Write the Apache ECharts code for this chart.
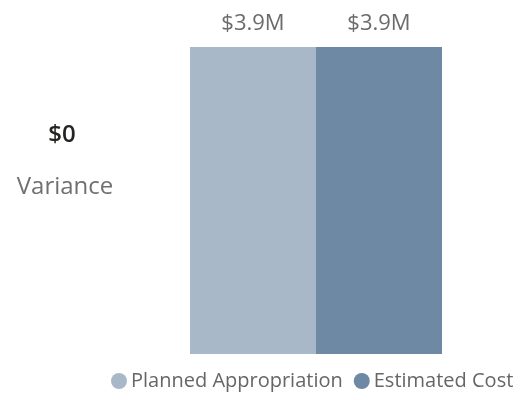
<!DOCTYPE html>
<html><head><meta charset="utf-8">
<script src="https://cdn.jsdelivr.net/npm/echarts@6/dist/echarts.min.js"></script>
<style>html,body{margin:0;padding:0;background:#fff}#c{width:520px;height:400px}</style>
</head><body><div id="c"></div>
<script>
var categories = ['Total'];
var seriesNames = ['Planned Appropriation', 'Estimated Cost'];
var plannedValues = [3900000];
var estimatedValues = [3900000];
var varianceValue = 0;
var varianceLabel = 'Variance';

function fmtM(v){ return '$' + (v/1e6).toFixed(1) + 'M'; }
var FONT = '"Open Sans", "Noto Sans", sans-serif';
var chart = echarts.init(document.getElementById('c'));
chart.setOption({
  animation: false,
  textStyle: {fontFamily: FONT},
  graphic: [
    {type: 'text', x: 62, y: 135, style: {text: '$' + varianceValue, textAlign: 'center', textVerticalAlign: 'middle',
      font: '600 24px ' + FONT, fill: '#252423'}},
    {type: 'text', x: 65, y: 187, style: {text: varianceLabel, textAlign: 'center', textVerticalAlign: 'middle',
      font: 'normal 24px ' + FONT, fill: '#707070'}}
  ],
  legend: {
    data: seriesNames, icon: 'circle', itemWidth: 16, itemHeight: 16, itemGap: 11,
    left: 111, top: 371, padding: 0,
    textStyle: {fontFamily: FONT, fontSize: 20, color: '#666666', padding: [0,0,0,-1]}
  },
  grid: {left: 190, right: 78, top: 47, bottom: 46, containLabel: false},
  xAxis: {type: 'category', data: categories, show: false},
  yAxis: {type: 'value', min: 0, max: 3900000, show: false},
  series: [
    {name: seriesNames[0], type: 'bar', data: plannedValues, barWidth: 126, barGap: '0%',
     itemStyle: {color: '#A9B8C8'},
     label: {show: true, position: 'top', distance: 12, formatter: function(p){return fmtM(p.value);},
             fontFamily: FONT, fontSize: 22, color: '#6b6b6b'}},
    {name: seriesNames[1], type: 'bar', data: estimatedValues, barWidth: 126, barGap: '0%',
     itemStyle: {color: '#6E89A4'},
     label: {show: true, position: 'top', distance: 12, formatter: function(p){return fmtM(p.value);},
             fontFamily: FONT, fontSize: 22, color: '#6b6b6b'}}
  ]
});
</script></body></html>
